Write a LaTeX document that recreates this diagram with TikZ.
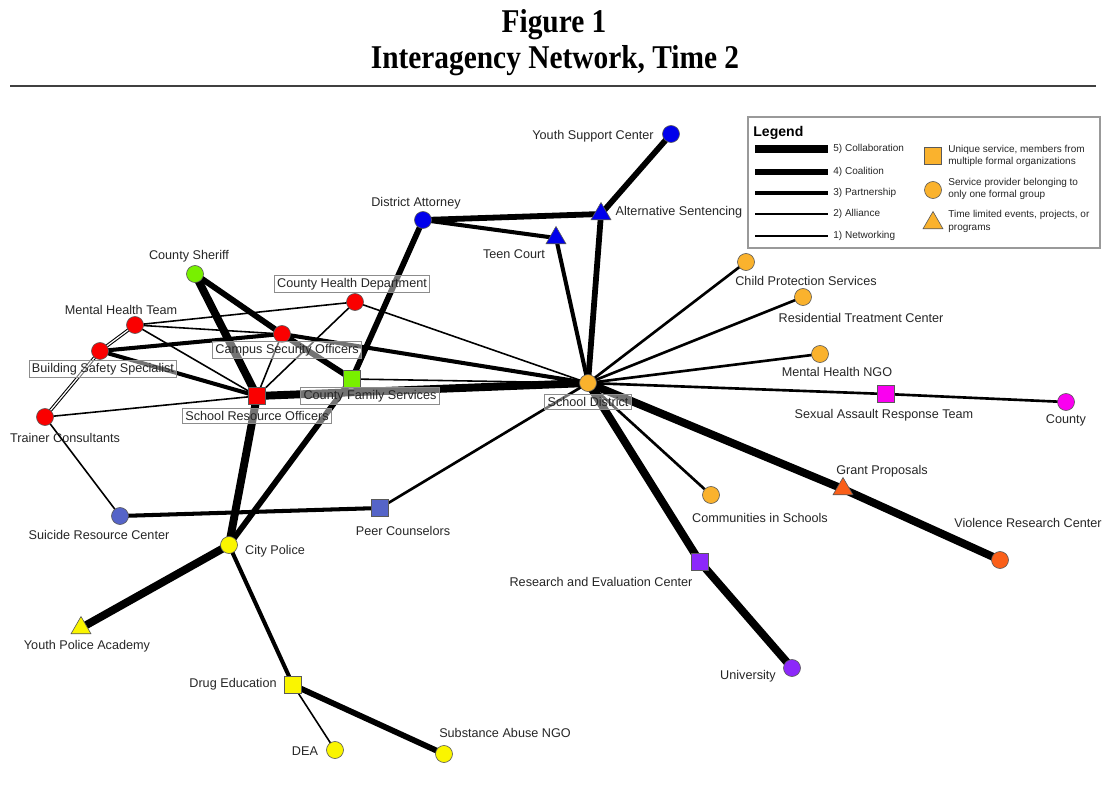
\documentclass[tikz,border=0pt]{standalone}
\usepackage{fontspec}
\setmainfont{Liberation Sans}
\newfontfamily\titlefont[FakeStretch=0.885]{Liberation Serif}
\usetikzlibrary{shapes.geometric}
\pgfdeclarelayer{bg}
\pgfsetlayers{bg,main}
\definecolor{cBlue}{RGB}{0,0,235}
\definecolor{cGreen}{RGB}{120,240,0}
\definecolor{cRed}{RGB}{250,0,0}
\definecolor{cOrange}{RGB}{250,178,45}
\definecolor{cMag}{RGB}{250,0,240}
\definecolor{cOred}{RGB}{250,95,25}
\definecolor{cPurple}{RGB}{140,40,250}
\definecolor{cSlate}{RGB}{85,100,200}
\definecolor{cYellow}{RGB}{250,245,0}
\newcommand\labfont{\fontsize{7.2}{8.6}\selectfont}
\newcommand\legfont{\fontsize{5.7}{7.1}\selectfont}
\begin{document}
\begin{tikzpicture}[x=0.02cm,y=-0.02cm,
  nd/.style={draw=black!65, line width=0.35pt, inner sep=0pt},
  circ/.style={nd, circle, minimum size=0.34cm, fill=#1},
  sq/.style={nd, rectangle, minimum size=0.34cm, fill=#1},
  tri/.style={nd, regular polygon, regular polygon sides=3, minimum size=0.46cm, fill=#1},
  lab/.style={font=\labfont, text=black!85, inner sep=1pt},
  blab/.style={lab, draw=black!45, fill=white, fill opacity=0.45, text opacity=1, inner sep=1.6pt, line width=0.5pt},
  legl/.style={font=\legfont, text=black!85, inner sep=0pt, anchor=west, align=left},
  Lone/.style={line width=0.9pt},
  Ltwo/.style={line width=1.5pt},
  Lthree/.style={line width=2.3pt},
  Lfour/.style={line width=3.3pt},
  Lfive/.style={line width=4.5pt},
  Ldbl/.style={double=white, double distance=0.7pt, line width=0.6pt},
]
\useasboundingbox (0,0) rectangle (1106,791);
% title
\node[anchor=base, font=\titlefont\bfseries\fontsize{18.9}{22}\selectfont] (t1) at (554,32) {Figure 1};
\node[anchor=base, font=\titlefont\bfseries\fontsize{18.9}{22}\selectfont] (t2) at (555,68) {Interagency Network, Time 2};
\draw[line width=1.1pt, black!75] (10,86) -- (1096,86);

% nodes
\node[circ=cBlue] (ysc) at (671,134) {};
\node[tri=cBlue] (as) at (601,214) {};
\node[circ=cBlue] (da) at (423,220) {};
\node[tri=cBlue] (tc) at (556,238) {};
\node[circ=cGreen] (sher) at (195,274) {};
\node[circ=cRed] (chd) at (355,302) {};
\node[circ=cRed] (mht) at (135,325) {};
\node[circ=cRed] (cso) at (282,334) {};
\node[circ=cRed] (bss) at (100,351) {};
\node[sq=cGreen] (cfs) at (352,379) {};
\node[sq=cRed] (sro) at (257,396) {};
\node[circ=cRed] (trc) at (45,417) {};
\node[circ=cOrange] (sd) at (588,383) {};
\node[circ=cOrange] (cps) at (746,262) {};
\node[circ=cOrange] (rtc) at (803,297) {};
\node[circ=cOrange] (mhn) at (820,354) {};
\node[sq=cMag] (sart) at (886,394) {};
\node[circ=cMag] (cty) at (1066,402) {};
\node[tri=cOred] (gp) at (843,489) {};
\node[circ=cOred] (vrc) at (1000,560) {};
\node[circ=cOrange] (cis) at (711,495) {};
\node[sq=cPurple] (rec) at (700,562) {};
\node[circ=cPurple] (uni) at (792,668) {};
\node[circ=cSlate] (src) at (120,516) {};
\node[sq=cSlate] (pc) at (380,508) {};
\node[circ=cYellow] (cp) at (229,545) {};
\node[tri=cYellow] (ypa) at (81,628) {};
\node[sq=cYellow] (de) at (293,685) {};
\node[circ=cYellow] (dea) at (335,750) {};
\node[circ=cYellow] (sango) at (444,754) {};

% edges
\begin{pgfonlayer}{bg}
\draw[Lfour] (ysc.center) -- (as.center);
\draw[Lfour] (da.center) -- (as.center);
\draw[Lthree] (da.center) -- (tc.center);
\draw[Lfour] (as.center) -- (sd.center);
\draw[Lthree] (tc.center) -- (sd.center);
\draw[Lfour] (da.center) -- (cfs.center);
\draw[Lfive] (sher.center) -- (sro.center);
\draw[Lfour] (sher.center) -- (cso.center);
\draw[Lfour] (cso.center) -- (cfs.center);
\draw[Lthree] (cso.center) -- (sd.center);
\draw[Lone] (chd.center) -- (sd.center);
\draw[Lone] (chd.center) -- (mht.center);
\draw[Lone] (chd.center) -- (sro.center);
\draw[Lone] (mht.center) -- (cso.center);
\draw[Ldbl] (mht.center) -- (bss.center);
\draw[Lone] (mht.center) -- (sro.center);
\draw[Lthree] (bss.center) -- (cso.center);
\draw[Lthree] (bss.center) -- (sro.center);
\draw[Ldbl] (bss.center) -- (trc.center);
\draw[Lone] (trc.center) -- (sro.center);
\draw[Lone] (trc.center) -- (src.center);
\draw[Lone] (cso.center) -- (sro.center);
\draw[Lfive] (sro.center) -- (sd.center);
\draw[Lfive] (sro.center) -- (cp.center);
\draw[Lone] (cfs.center) -- (sd.center);
\draw[Lfour] (cfs.center) -- (cp.center);
\draw[Ltwo] (sd.center) -- (pc.center);
\draw[Lthree] (pc.center) -- (src.center);
\draw[Lfive] (cp.center) -- (ypa.center);
\draw[Lthree] (cp.center) -- (de.center);
\draw[Lone] (de.center) -- (dea.center);
\draw[Lfour] (de.center) -- (sango.center);
\draw[Ltwo] (sd.center) -- (cps.center);
\draw[Ltwo] (sd.center) -- (rtc.center);
\draw[Ltwo] (sd.center) -- (mhn.center);
\draw[Ltwo] (sd.center) -- (sart.center);
\draw[Ltwo] (sart.center) -- (cty.center);
\draw[Lfive] (sd.center) -- (gp.center);
\draw[Lfive] (gp.center) -- (vrc.center);
\draw[Ltwo] (sd.center) -- (cis.center);
\draw[Lfive] (sd.center) -- (rec.center);
\draw[Lfive] (rec.center) -- (uni.center);
\end{pgfonlayer}

% labels
\node[lab] (ysc-l) at (593,136) {Youth Support Center};
\node[lab] (as-l) at (679,212) {Alternative Sentencing};
\node[lab] (da-l) at (416,203) {District Attorney};
\node[lab] (tc-l) at (514,254) {Teen Court};
\node[lab] (sher-l) at (189,256) {County Sheriff};
\node[blab] (chd-l) at (352,284) {County Health Department};
\node[lab] (mht-l) at (121,310) {Mental Health Team};
\node[blab] (cso-l) at (287,350) {Campus Security Officers};
\node[blab] (bss-l) at (103,369) {Building Safety Specialist};
\node[blab] (cfs-l) at (370,396) {County Family Services};
\node[blab] (sro-l) at (257,416) {School Resource Officers};
\node[lab] (trc-l) at (65,438) {Trainer Consultants};
\node[blab] (sd-l) at (588,402) {School District};
\node[lab] (cps-l) at (806,281) {Child Protection Services};
\node[lab] (rtc-l) at (861,318) {Residential Treatment Center};
\node[lab] (mhn-l) at (837,372) {Mental Health NGO};
\node[lab] (sart-l) at (884,415) {Sexual Assault Response Team};
\node[lab] (cty-l) at (1066,420) {County};
\node[lab] (gp-l) at (882,471) {Grant Proposals};
\node[lab] (vrc-l) at (1028,523) {Violence Research Center};
\node[lab] (cis-l) at (760,518) {Communities in Schools};
\node[lab] (rec-l) at (601,582) {Research and Evaluation Center};
\node[lab] (uni-l) at (748,676) {University};
\node[lab] (src-l) at (99,535) {Suicide Resource Center};
\node[lab] (pc-l) at (403,531) {Peer Counselors};
\node[lab] (cp-l) at (275,551) {City Police};
\node[lab] (ypa-l) at (87,646) {Youth Police Academy};
\node[lab] (de-l) at (233,684) {Drug Education};
\node[lab] (dea-l) at (305,751) {DEA};
\node[lab] (sango-l) at (505,733) {Substance Abuse NGO};

% legend
\draw[black!40, line width=0.6pt, fill=white] (748,117) rectangle (1100,248);
\node[anchor=west, font=\fontsize{8}{9}\selectfont\bfseries, inner sep=0pt] (leg) at (753,133) {Legend};
\draw[Lfive] (755,149) -- (828,149);
\draw[Lfour] (755,172) -- (828,172);
\draw[Lthree] (755,193) -- (828,193);
\draw[Ltwo] (755,214) -- (828,214);
\draw[Lone] (755,236) -- (828,236);
\node[legl] (l5) at (833,149) {5) Collaboration};
\node[legl] (l4) at (833,172) {4) Coalition};
\node[legl] (l3) at (833,193) {3) Partnership};
\node[legl] (l2) at (833,214) {2) Alliance};
\node[legl] (l1) at (833,236) {1) Networking};
\node[sq=cOrange] (lsq) at (933,156) {};
\node[circ=cOrange] (lci) at (933,190) {};
\node[tri=cOrange] (ltr) at (933,223) {};
\node[legl] (lsq-t) at (948,156) {Unique service, members from\\multiple formal organizations};
\node[legl] (lci-t) at (948,189) {Service provider belonging to\\only one formal group};
\node[legl] (ltr-t) at (948,221.5) {Time limited events, projects, or\\programs};
\end{tikzpicture}
\end{document}
